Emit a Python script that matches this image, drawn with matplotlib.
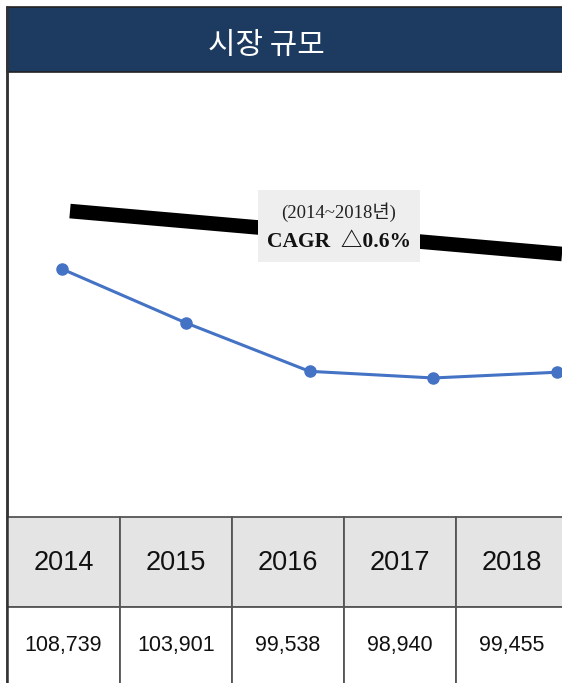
import numpy as np
import matplotlib
matplotlib.use('Agg')
import matplotlib.pyplot as plt
from matplotlib.patches import Rectangle

plt.rcParams['font.family'] = ['Noto Sans CJK KR', 'DejaVu Sans']

# 시장 규모 데이터
years = ['2014', '2015', '2016', '2017', '2018']
values = [108739, 103901, 99538, 98940, 99455]
value_labels = ['108,739', '103,901', '99,538', '98,940', '99,455']

# CAGR 추세선 (시작/끝 값)
trend_x = [0.065, 4.04]
trend_y = [113950, 110090]

title = '시장 규모'
period_text = '(2014~2018년)'
cagr_text = 'CAGR  △0.6%'

W, H = 562, 683
fig = plt.figure(figsize=(W / 100, H / 100), dpi=100)


def fx(px):
    return px / W


def fy(py):
    return 1 - py / H


navy = '#1d3b60'
border = '#444444'

# 제목 띠
fig.patches.append(Rectangle((fx(7), fy(72)), fx(W - 7) + 0.01, fy(7) - fy(72),
                             transform=fig.transFigure, facecolor=navy,
                             edgecolor='#222222', linewidth=1.2, zorder=1))
fig.text(fx(266), fy(46), title, color='white', fontsize=21.5,
         ha='center', va='center')

# 선 그래프 영역
ax = fig.add_axes([fx(7), fy(517), fx(W - 7), fy(72) - fy(517)])
x = np.arange(len(values))
ax.plot(trend_x, trend_y, color='black', linewidth=10.5, solid_capstyle='butt', zorder=2)
ax.plot(x, values, color='#4472c4', linewidth=2.2, marker='o', markersize=8, zorder=3)
ax.set_xlim(-0.444, 4.04)
ax.set_ylim(86437, 126455)
ax.set_xticks([])
ax.set_yticks([])
for side in ['top', 'right', 'bottom']:
    ax.spines[side].set_visible(False)
ax.spines['left'].set_color(border)
ax.spines['left'].set_linewidth(1.8)

# CAGR 상자
fig.patches.append(Rectangle((fx(258), fy(262)), fx(162), fy(190) - fy(262),
                             transform=fig.transFigure, facecolor='#eeeeee',
                             edgecolor='none', zorder=4))
serif = ['Liberation Serif', 'Noto Sans CJK KR']
fig.text(fx(339), fy(212), period_text, fontsize=13.5, family=serif,
         ha='center', va='center', color='#222222', zorder=5)
fig.text(fx(339), fy(242), cagr_text, fontsize=15.5, family=serif, fontweight='bold',
         ha='center', va='center', color='#111111', zorder=5)

# 하단 표
col_edges = [7, 120, 232, 344, 456, 568]
row_top, row_mid, row_bot = 517, 607, 690
table_font = ['Liberation Sans', 'DejaVu Sans']
for i in range(len(years)):
    x0, x1 = col_edges[i], col_edges[i + 1]
    fig.patches.append(Rectangle((fx(x0), fy(row_mid)), fx(x1 - x0), fy(row_top) - fy(row_mid),
                                 transform=fig.transFigure, facecolor='#e4e4e4',
                                 edgecolor='#555555', linewidth=1.3))
    fig.patches.append(Rectangle((fx(x0), fy(row_bot)), fx(x1 - x0), fy(row_mid) - fy(row_bot),
                                 transform=fig.transFigure, facecolor='white',
                                 edgecolor='#555555', linewidth=1.3))
    cx = (x0 + min(x1, W + 6)) / 2
    fig.text(fx(cx), fy(563), years[i], fontsize=19.5, family=table_font,
             ha='center', va='center', color='#111111')
    fig.text(fx(cx), fy(646), value_labels[i], fontsize=15.5, family=table_font,
             ha='center', va='center', color='#111111')

# 왼쪽 테두리
fig.add_artist(plt.Line2D([fx(7), fx(7)], [fy(7), 0], transform=fig.transFigure,
                          color='#333333', linewidth=1.8))

fig.savefig('out.png', dpi=100)
